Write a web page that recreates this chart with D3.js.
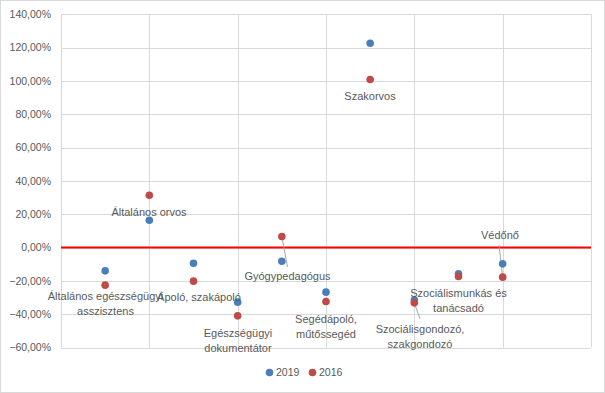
<!DOCTYPE html>
<html><head><meta charset="utf-8">
<script src="https://cdn.jsdelivr.net/npm/d3@7"></script>
<style>body{margin:0;background:#fff}svg{display:block}</style>
</head><body>
<script>
const categories = ["Általános egészségügyi asszisztens","Általános orvos","Ápoló, szakápoló","Egészségügyi dokumentátor","Gyógypedagógus","Segédápoló, műtőssegéd","Szakorvos","Szociálisgondozó, szakgondozó","Szociálismunkás és tanácsadó","Védőnő"];
const xValues = [1,2,3,4,5,6,7,8,9,10];
const values2019 = [-14.0, 16.4, -9.4, -32.8, -8.2, -26.8, 122.6, -31.5, -15.8, -9.8];
const values2016 = [-22.6, 31.4, -20.2, -41.0, 6.6, -32.4, 100.8, -33.2, -17.4, -17.8];
const seriesNames = ["2019","2016"];
const colors = ["#4a7ebb","#be4b48"];
const yTicks = [-60,-40,-20,0,20,40,60,80,100,120,140];
const xTicks = [0,2,4,6,8,10,12];
// label lines (text split) for the 2016 series labels
const labelLines = [["Általános egészségügyi","asszisztens"],["Általános orvos"],["Ápoló, szakápoló"],["Egészségügyi","dokumentátor"],["Gyógypedagógus"],["Segédápoló,","műtőssegéd"],["Szakorvos"],["Szociálisgondozó,","szakgondozó"],["Szociálismunkás és","tanácsadó"],["Védőnő"]];
const labelPos = [[105.5,300],[149,216],[199,300.5],[238,337],[287.5,280],[326,323],[370,99.5],[420,333],[458.5,297],[500,239]];
const leaders = [null,null,null,null,[287.5,267],null,null,[420,319],null,[499,245]];

const W=605,H=393;
const svg=d3.select("body").append("svg").attr("width",W).attr("height",H);
svg.append("rect").attr("x",0.5).attr("y",0.5).attr("width",W-1).attr("height",H-1).attr("fill","#fff").attr("stroke","#d9d9d9");
const x=d3.scaleLinear().domain([0,12]).range([61,591]);
const y=d3.scaleLinear().domain([-60,140]).range([347.5,14.2]);
const font="'Liberation Sans', Arial, sans-serif";
const tc="#595959";

// grid
svg.append("g").selectAll("line").data(yTicks).join("line")
 .attr("x1",x(0)).attr("x2",x(12)).attr("y1",d=>Math.round(y(d))+0.5).attr("y2",d=>Math.round(y(d))+0.5)
 .attr("stroke","#d9d9d9").attr("stroke-width",1);
svg.append("g").selectAll("line").data(xTicks).join("line")
 .attr("x1",d=>Math.round(x(d))+0.5).attr("x2",d=>Math.round(x(d))+0.5).attr("y1",y(140)).attr("y2",y(-60))
 .attr("stroke","#d9d9d9").attr("stroke-width",1);

// y axis labels
const fmt=d=>d3.format(".2f")(d).replace(".",",")+"%";
svg.append("g").selectAll("text").data(yTicks).join("text")
 .attr("x",51).attr("y",d=>y(d)).attr("dy","0.35em").attr("text-anchor","end")
 .attr("font-family",font).attr("font-size","10.5px").attr("fill",tc).text(fmt);

// zero line
svg.append("line").attr("x1",x(0)).attr("x2",x(12)).attr("y1",y(0)).attr("y2",y(0))
 .attr("stroke","#ff0000").attr("stroke-width",2);

// leader lines
leaders.forEach((l,i)=>{ if(!l) return;
 svg.append("line").attr("x1",x(xValues[i])).attr("y1",y(values2016[i])).attr("x2",l[0]).attr("y2",l[1])
  .attr("stroke","#a6a6a6").attr("stroke-width",1);
});

// points
[values2019,values2016].forEach((vals,s)=>{
 svg.append("g").selectAll("circle").data(vals).join("circle")
  .attr("cx",(d,i)=>x(xValues[i])).attr("cy",d=>y(d)).attr("r",3.8).attr("fill",colors[s]);
});

// labels
labelLines.forEach((lines,i)=>{
 const t=svg.append("text").attr("font-family",font).attr("font-size","11px").attr("fill",tc).attr("text-anchor","middle");
 lines.forEach((ln,j)=>{
  t.append("tspan").attr("x",labelPos[i][0]).attr("y",labelPos[i][1]+j*15).text(ln);
 });
});

// legend
const leg=[[269.5,276],[312.5,319]];
seriesNames.forEach((n,i)=>{
 svg.append("circle").attr("cx",leg[i][0]).attr("cy",372.5).attr("r",3.8).attr("fill",colors[i]);
 svg.append("text").attr("x",leg[i][1]).attr("y",372.5).attr("dy","0.35em").attr("font-family",font)
  .attr("font-size","10.5px").attr("fill",tc).text(n);
});
</script>
</body></html>
